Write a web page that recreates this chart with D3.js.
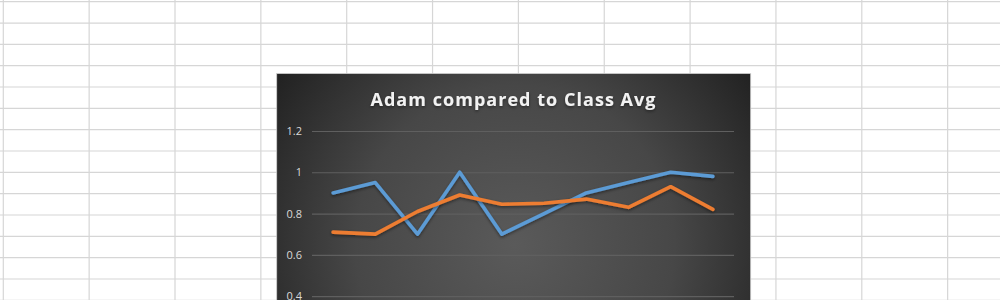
<!DOCTYPE html>
<html><head><meta charset="utf-8">
<script src="https://cdn.jsdelivr.net/npm/d3@7"></script>
<style>html,body{margin:0;padding:0;background:#fff;overflow:hidden}</style>
</head><body>
<svg id="c" width="1000" height="300"></svg>
<script>
// data
const categories = ["1","2","3","4","5","6","7","8","9","10"];
const adam = [0.90, 0.95, 0.70, 1.00, 0.70, 0.80, 0.90, 0.95, 1.00, 0.98];
const classAvg = [0.71, 0.70, 0.81, 0.89, 0.845, 0.85, 0.87, 0.83, 0.93, 0.82];
const yTicks = [0.4, 0.6, 0.8, 1, 1.2];
const title = "Adam compared to Class Avg";

const svg = d3.select("#c");

// spreadsheet grid background
const gridG = svg.append("g");
const colW = 85.85, col0 = 3.3, rowH = 21.33, row0 = 1.7;
d3.range(0, 12).forEach(i => {
  const x = col0 + i * colW;
  gridG.append("line").attr("x1", x).attr("x2", x).attr("y1", 0).attr("y2", 300)
    .attr("stroke", "#d6d6d6").attr("stroke-width", 1.2);
});
d3.range(0, 15).forEach(i => {
  const y = row0 + i * rowH;
  gridG.append("line").attr("x1", 0).attr("x2", 1000).attr("y1", y).attr("y2", y)
    .attr("stroke", "#d6d6d6").attr("stroke-width", 1.2);
});

// chart area
const chart = {x: 276.7, y: 73.5, w: 474, h: 290};
const defs = svg.append("defs");
const rg = defs.append("radialGradient").attr("id", "bg")
  .attr("gradientUnits", "userSpaceOnUse")
  .attr("cx", 515).attr("cy", 245).attr("r", 290);
rg.append("stop").attr("offset", 0).attr("stop-color", "#5a5a5a");
rg.append("stop").attr("offset", 0.55).attr("stop-color", "#474747");
rg.append("stop").attr("offset", 1).attr("stop-color", "#222222");

const sh = defs.append("filter").attr("id", "sh").attr("x", "-10%").attr("y", "-10%").attr("width", "120%").attr("height", "130%");
sh.append("feDropShadow").attr("dx", 0).attr("dy", 1.5).attr("stdDeviation", 1.5).attr("flood-color", "#000").attr("flood-opacity", 0.45);

svg.append("rect").attr("x", chart.x).attr("y", chart.y).attr("width", chart.w).attr("height", chart.h)
  .attr("fill", "url(#bg)").attr("stroke", "#cfcfcf").attr("stroke-width", 0.8);

// scales
const x = d3.scaleBand().domain(categories).range([312, 734]);
const y = d3.scaleLinear().domain([0, 1.2]).range([378.6, 131]);

// gridlines
const yAxis = d3.axisLeft(y).tickValues(yTicks).tickSize(-(734 - 312)).tickPadding(10)
  .tickFormat(d => d3.format("")(d));
const ag = svg.append("g").attr("transform", "translate(312,0)").call(yAxis);
ag.select(".domain").remove();
ag.selectAll(".tick line").attr("stroke", "#5f5f5f").attr("stroke-width", 1.2);
ag.selectAll(".tick text").attr("fill", "#d9d9d9")
  .style("font-family", "'Open Sans', sans-serif").style("font-size", "11px").attr("x", -10);

// lines
const line = d3.line().x((d, i) => x(categories[i]) + x.bandwidth() / 2).y(d => y(d));
svg.append("path").datum(adam).attr("d", line).attr("fill", "none")
  .attr("stroke", "#5B9BD5").attr("stroke-width", 3.6).attr("stroke-linejoin", "round").attr("stroke-linecap", "round")
  .attr("filter", "url(#sh)");
svg.append("path").datum(classAvg).attr("d", line).attr("fill", "none")
  .attr("stroke", "#ED7D31").attr("stroke-width", 3.6).attr("stroke-linejoin", "round").attr("stroke-linecap", "round")
  .attr("filter", "url(#sh)");

// title
svg.append("text").attr("x", 513).attr("y", 106).attr("text-anchor", "middle")
  .attr("fill", "#f2f2f2").style("font-family", "'Open Sans', sans-serif")
  .style("font-weight", "700").style("font-size", "18px")
  .attr("textLength", 285).attr("lengthAdjust", "spacing")
  .attr("filter", "url(#sh)")
  .text(title);
</script>
</body></html>
